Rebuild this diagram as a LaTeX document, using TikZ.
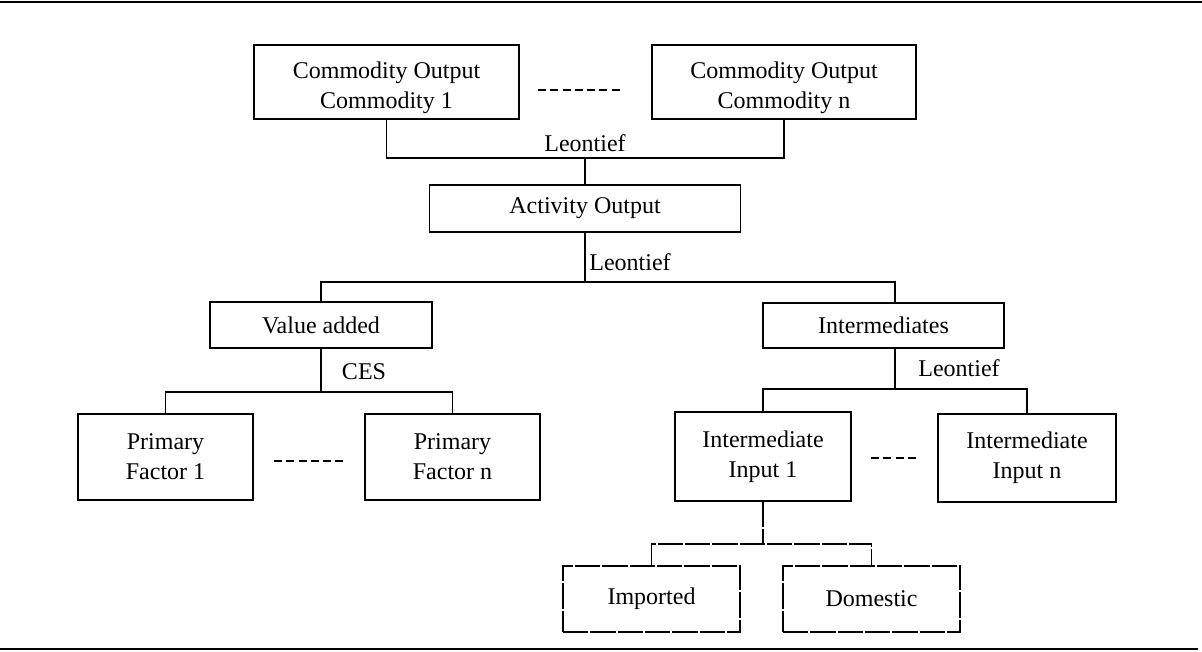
\documentclass[tikz,border=0pt]{standalone}
\usepackage{fontspec}
\setmainfont{Liberation Serif}
\usetikzlibrary{calc}
\begin{document}
\begin{tikzpicture}[x=0.75pt,y=-0.75pt,
  box/.style={draw, line width=1pt, inner sep=0pt, align=center, font=\fontsize{18}{22.5}\selectfont},
  dbox/.style={box, dash pattern=on 19pt off 1.5pt},
  lbl/.style={font=\fontsize{18}{22}\selectfont, inner sep=0pt},
  conn/.style={line width=1pt},
  dconn/.style={line width=1pt, dash pattern=on 19pt off 1.5pt},
  sep/.style={line width=1.2pt, dash pattern=on 6pt off 3.2pt},
  rule/.style={line width=1.6pt}]
\useasboundingbox (0,0) rectangle (1202,652);
% rules
\coordinate (rtl) at (0,2);
\coordinate (rtr) at (1202,2);
\coordinate (rbl) at (0,649);
\coordinate (rbr) at (1198,649);
\draw[rule] (rtl) -- (rtr);
\draw[rule,line width=1.3pt] (rbl) -- (rbr);
% nodes
\node[box, minimum width=198.75pt, minimum height=55.5pt] (C1) at (386.5,82) {\rule{0pt}{21pt}Commodity Output\\Commodity 1};
\node[box, minimum width=198pt, minimum height=55.5pt] (Cn) at (784,82) {\rule{0pt}{21pt}Commodity Output\\Commodity n};
\node[box, minimum width=233.25pt, minimum height=35.25pt] (Act) at (585,208.5) {Activity Output};
\node[box, minimum width=166.5pt, minimum height=34.5pt] (VA) at (321,325) {Value added};
\node[box, minimum width=180.75pt, minimum height=33.75pt] (Int) at (883.5,325.5) {Intermediates};
\node[box, minimum width=131.25pt, minimum height=64.5pt] (PF1) at (165.5,457) {Primary\\Factor 1};
\node[box, minimum width=131.25pt, minimum height=64.5pt] (PFn) at (452.5,457) {Primary\\Factor n};
\node[box, minimum width=132pt, minimum height=66.75pt] (In1) at (763,456.5) {Intermediate\\Input 1};
\node[box, minimum width=133.5pt, minimum height=66pt] (Inn) at (1027,458) {Intermediate\\Input n};
\node[dbox, minimum width=132.75pt, minimum height=49.5pt] (Imp) at (651.5,599) {Imported};
\node[dbox, minimum width=132.75pt, minimum height=49.5pt] (Dom) at (871.5,599) {Domestic};
% labels
\node[lbl] (L1) at (585,143) {Leontief};
\node[lbl] (L2) at (630,262) {Leontief};
\node[lbl] (CES) at (364,372) {CES};
\node[lbl] (L3) at (959,368) {Leontief};
% junctions
\coordinate (j1) at (585,158);
\coordinate (j2) at (585,282);
\coordinate (j3) at (321,392);
\coordinate (j4) at (895,389);
\coordinate (j5) at (763,544);
% connectors
\draw[conn] (C1.south) |- (j1) -| (Cn.south);
\draw[conn] (j1) -- (Act.north);
\draw[conn] (Act.south) -- (j2);
\draw[conn] (VA.north) |- (j2) -| ($(Int.north)+(11.5,0)$);
\draw[conn] (VA.south) -- (j3);
\draw[conn] (PF1.north) |- (j3) -| (PFn.north);
\draw[conn] ($(Int.south)+(11.5,0)$) -- (j4);
\draw[conn] (In1.north) |- (j4) -| (Inn.north);
\draw[dconn] (In1.south) -- (j5);
\draw[dconn] (Imp.north) |- (j5) -| (Dom.north);
% separators
\coordinate (s1a) at (538,90);  \coordinate (s1b) at (620,90);
\coordinate (s2a) at (274,461); \coordinate (s2b) at (343.5,461);
\coordinate (s3a) at (871,458); \coordinate (s3b) at (916,458);
\draw[sep] (s1a) -- (s1b);
\draw[sep] (s2a) -- (s2b);
\draw[sep] (s3a) -- (s3b);
\end{tikzpicture}
\end{document}
